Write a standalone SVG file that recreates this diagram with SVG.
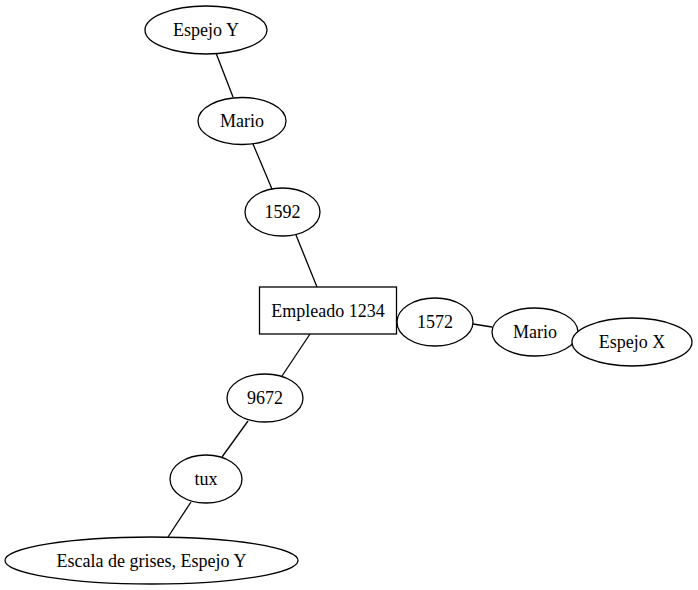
<svg xmlns="http://www.w3.org/2000/svg" width="698" height="590" viewBox="0 0 698 590">
<style>
.n ellipse, .n rect { fill: #ffffff; stroke: #000000; stroke-width: 1.3; }
.n text { font-family: 'Liberation Serif', 'DejaVu Serif', serif; font-size: 18px; text-anchor: middle; fill: #000000; }
#edges line { stroke: #000000; stroke-width: 1.3; }
</style>
<rect width="698" height="590" fill="#ffffff"/>
<g id="edges">
<line x1="216" y1="53" x2="233" y2="97"/>
<line x1="253" y1="144" x2="272" y2="189"/>
<line x1="296" y1="235" x2="317" y2="287"/>
<line x1="473" y1="324" x2="492" y2="327"/>
<line x1="310" y1="334" x2="282" y2="376"/>
<line x1="248" y1="421" x2="222" y2="457"/>
<line x1="191" y1="502" x2="168" y2="537"/>
</g>
<g id="espejo_y" class="n"><ellipse cx="206" cy="30" rx="61" ry="24"/><text x="206" y="36">Espejo Y</text></g>
<g id="mario_top" class="n"><ellipse cx="242" cy="121" rx="44" ry="23.5"/><text x="242" y="127">Mario</text></g>
<g id="n1592" class="n"><ellipse cx="282.5" cy="212" rx="37.5" ry="24"/><text x="282.5" y="218">1592</text></g>
<g id="empleado" class="n"><rect x="259.5" y="287" width="137" height="47"/><text x="328" y="317">Empleado 1234</text></g>
<g id="n1572" class="n"><ellipse cx="435" cy="322" rx="38" ry="24"/><text x="435" y="328">1572</text></g>
<g id="mario_right" class="n"><ellipse cx="535" cy="332" rx="43" ry="24"/><text x="535" y="338">Mario</text></g>
<g id="espejo_x" class="n"><ellipse cx="632" cy="342" rx="60" ry="24"/><text x="632" y="348">Espejo X</text></g>
<g id="n9672" class="n"><ellipse cx="265" cy="398" rx="38" ry="24"/><text x="265" y="404">9672</text></g>
<g id="tux" class="n"><ellipse cx="206" cy="479" rx="36" ry="24"/><text x="206" y="485">tux</text></g>
<g id="escala" class="n"><ellipse cx="151.5" cy="560.5" rx="146.5" ry="23.5"/><text x="151.5" y="566.5">Escala de grises, Espejo Y</text></g>
</svg>
